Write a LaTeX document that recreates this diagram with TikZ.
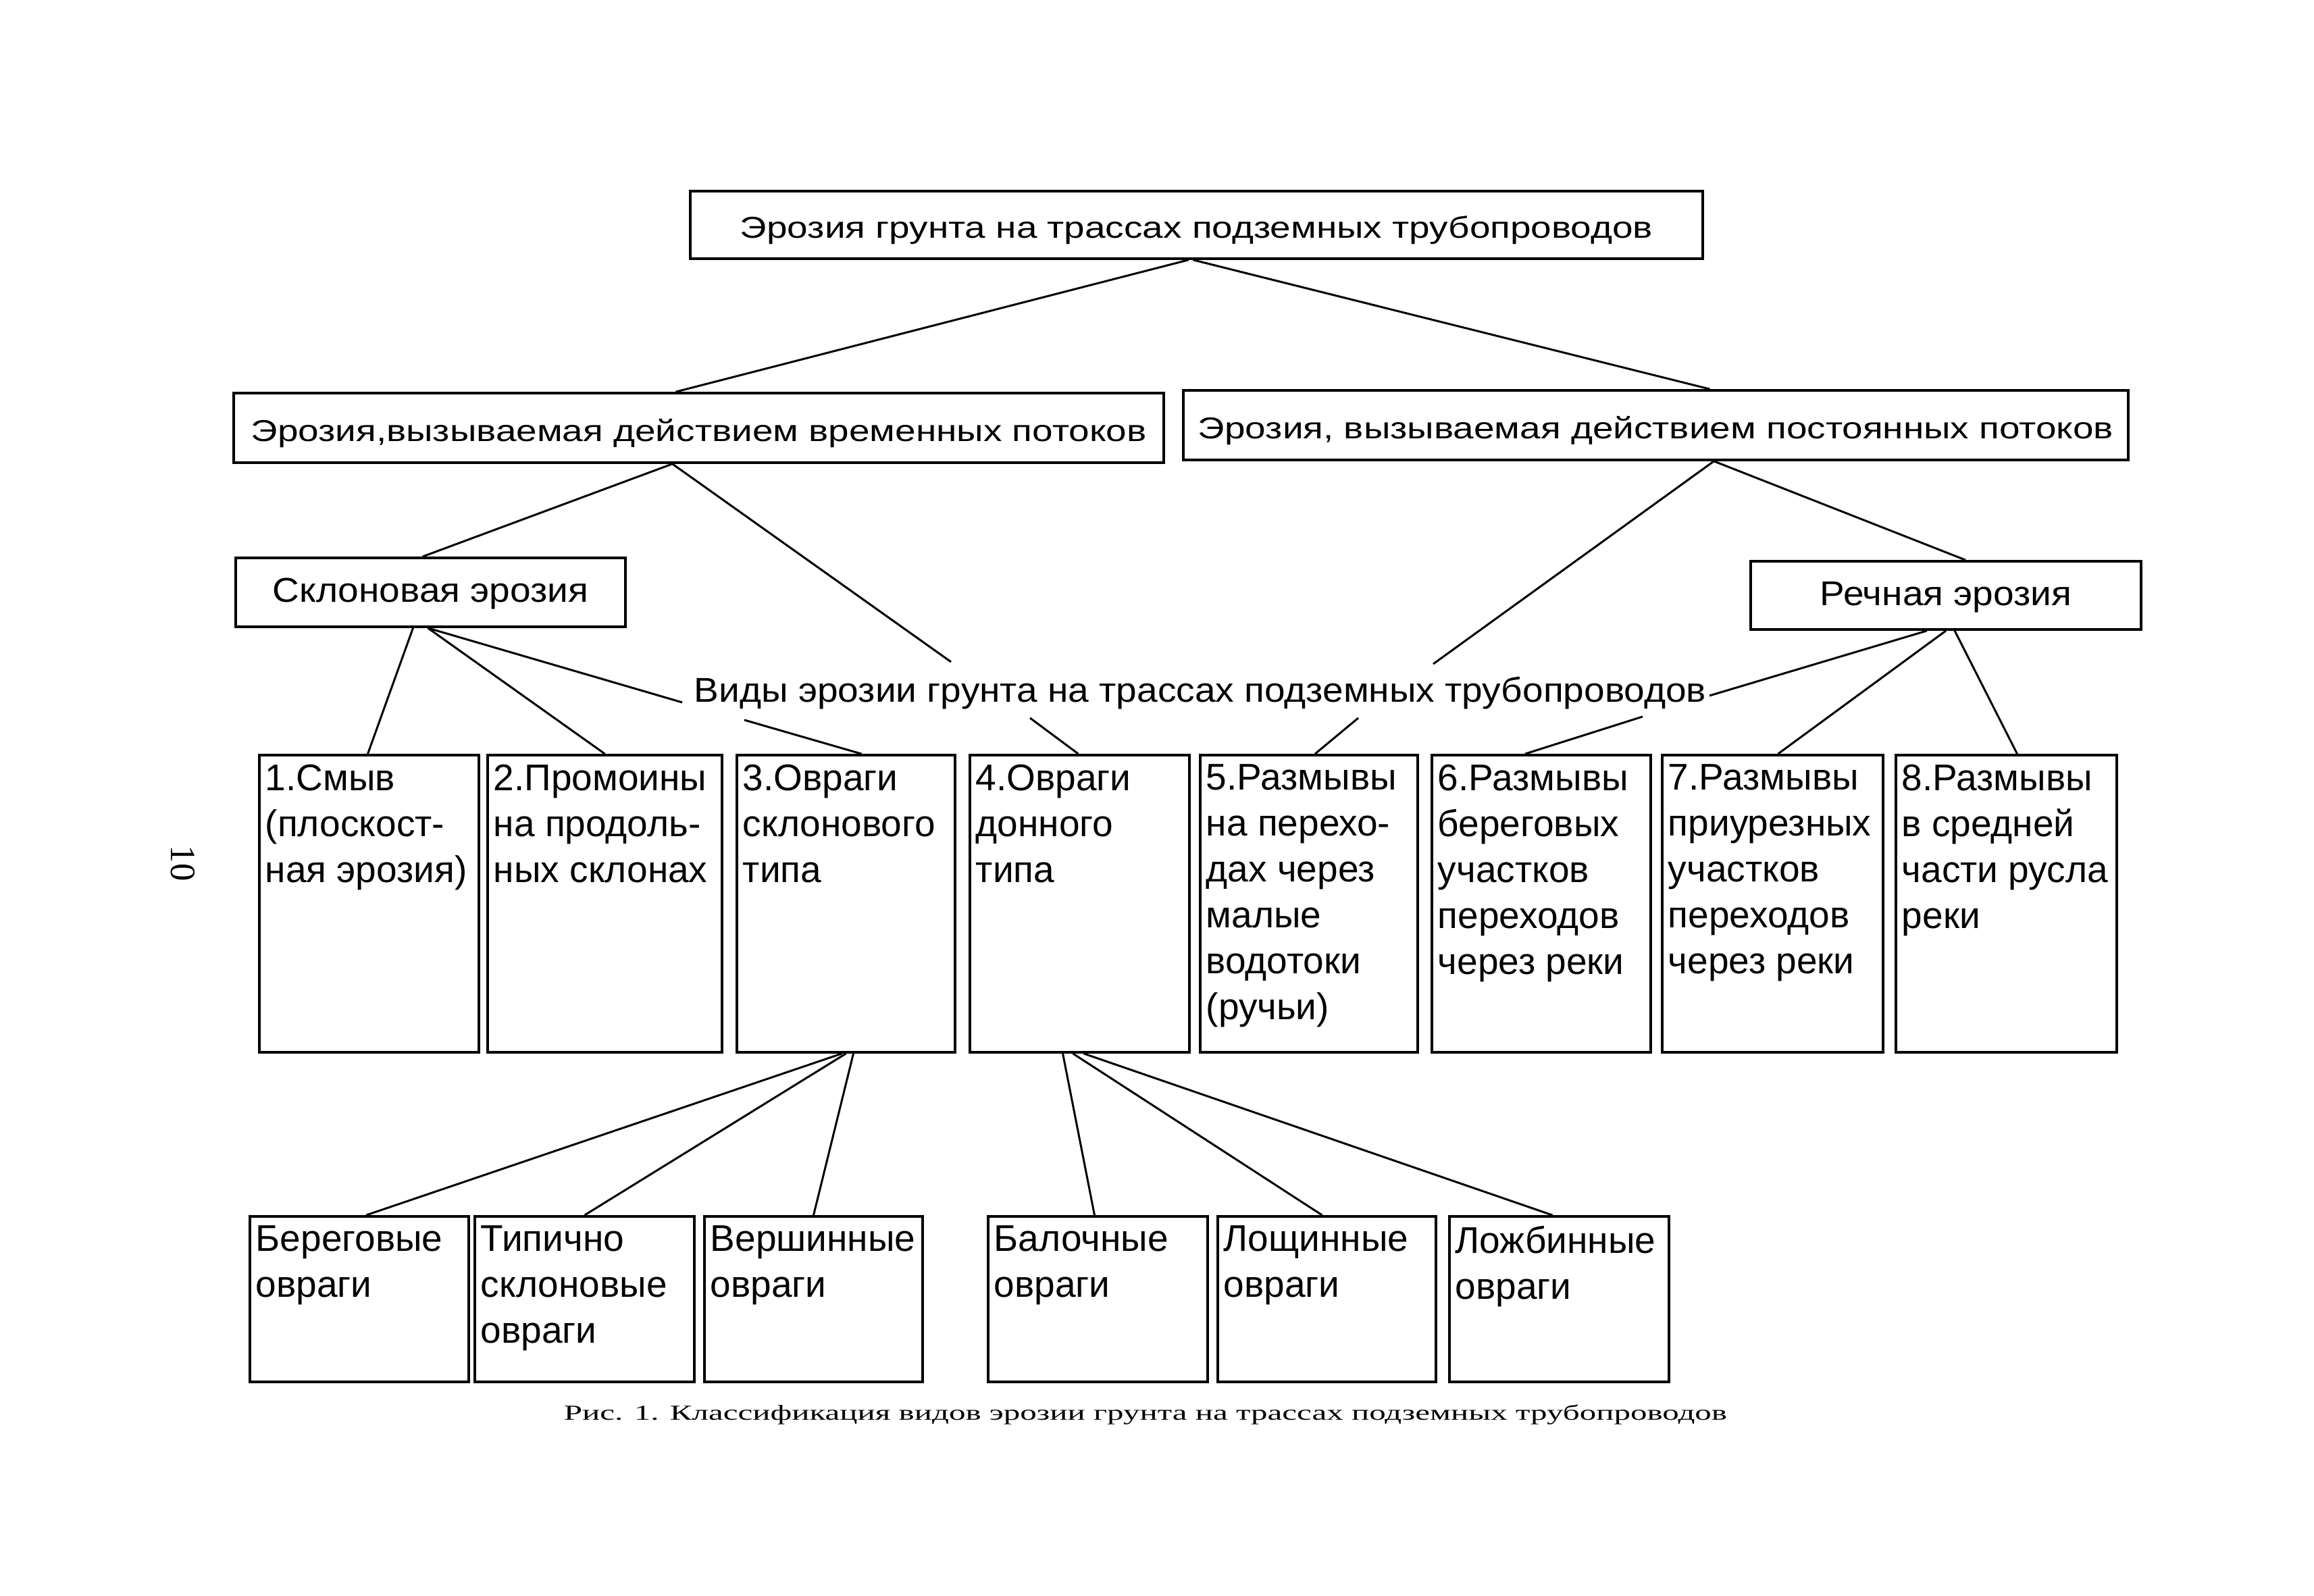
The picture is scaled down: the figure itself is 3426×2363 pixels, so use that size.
\documentclass[tikz,border=0pt]{standalone}
\usepackage{fontspec}
\setmainfont{Liberation Sans}
\newfontfamily\wideA[FakeStretch=1.23]{Liberation Sans}
\newfontfamily\wideB[FakeStretch=1.08]{Liberation Sans}
\newfontfamily\capfont[FakeStretch=1.55]{Liberation Serif}
\newfontfamily\pgnfont{Liberation Serif}
\usetikzlibrary{fit,calc}
\tikzset{
  frame/.style={draw, line width=1.05pt, inner sep=0pt},
  lnk/.style={line width=0.85pt},
  hdA/.style={font=\wideA\fontsize{12.7}{15}\selectfont, inner sep=0pt, anchor=base},
  hdB/.style={font=\wideB\fontsize{14.5}{17}\selectfont, inner sep=0pt, anchor=base},
  boxtxt/.style={anchor=north west, inner sep=0pt, align=left,
    font=\fontsize{15.65}{19.35}\selectfont},
  captxt/.style={font=\capfont\fontsize{9}{11}\selectfont, inner sep=0pt},
  pgtxt/.style={font=\pgnfont\fontsize{15}{17}\selectfont, inner sep=0pt}
}
\begin{document}
\begin{tikzpicture}[x=0.1mm, y=-0.1mm]
\fill[white] (0,0) rectangle (3426,2363);
\useasboundingbox (0,0) rectangle (3426,2363);

% level 1 and 2 frames
\node[frame, fit={(1022,283) (2521,383)}] (top) {};
\node[frame, fit={(346,582) (1723,685)}] (l2a) {};
\node[frame, fit={(1752,578) (3151,681)}] (l2b) {};
\node[frame, fit={(349,826) (926,928)}] (slope) {};
\node[frame, fit={(2592,831) (3170,932)}] (river) {};
% their texts
\node[hdA] (toptxt) at ($(top.center)+(0,20)$) {Эрозия грунта на трассах подземных трубопроводов};
\node[hdA] (l2atxt) at ($(l2a.center)+(0,20)$) {Эрозия,вызываемая действием временных потоков};
\node[hdA] (l2btxt) at ($(l2b.center)+(0,20)$) {Эрозия, вызываемая действием постоянных потоков};
\node[hdB] (slopetxt) at ($(slope.center)+(0,15)$) {Склоновая эрозия};
\node[hdB] (rivertxt) at ($(river.center)+(0,15)$) {Речная эрозия};
\node[hdB] (vidy) at (1777,1040) {Виды эрозии грунта на трассах подземных трубопроводов};

% row of eight boxes
\node[frame, fit={(384,1118) (709,1558)}] (b1) {};
\node[frame, fit={(722,1118) (1069,1558)}] (b2) {};
\node[frame, fit={(1091,1118) (1414,1558)}] (b3) {};
\node[frame, fit={(1436,1118) (1761,1558)}] (b4) {};
\node[frame, fit={(1777,1118) (2099,1558)}] (b5) {};
\node[frame, fit={(2120,1118) (2444,1558)}] (b6) {};
\node[frame, fit={(2461,1118) (2788,1558)}] (b7) {};
\node[frame, fit={(2807,1118) (3134,1558)}] (b8) {};
\node[boxtxt] (t1) at ($(b1.north west)+(10,15)$) {1.Смыв\\(плоскост-\\ная эрозия)};
\node[boxtxt] (t2) at ($(b2.north west)+(10,15)$) {2.Промоины\\на продоль-\\ных склонах};
\node[boxtxt] (t3) at ($(b3.north west)+(10,15)$) {3.Овраги\\склонового\\типа};
\node[boxtxt] (t4) at ($(b4.north west)+(10,15)$) {4.Овраги\\донного\\типа};
\node[boxtxt] (t5) at ($(b5.north west)+(10,15)$) {5.Размывы\\на перехо-\\дах через\\малые\\водотоки\\(ручьи)};
\node[boxtxt] (t6) at ($(b6.north west)+(10,15)$) {6.Размывы\\береговых\\участков\\переходов\\через реки};
\node[boxtxt] (t7) at ($(b7.north west)+(10,15)$) {7.Размывы\\приурезных\\участков\\переходов\\через реки};
\node[boxtxt] (t8) at ($(b8.north west)+(10,15)$) {8.Размывы\\в средней\\части русла\\реки};

% bottom boxes
\node[frame, fit={(370,1801) (694,2046)}] (s1) {};
\node[frame, fit={(703,1801) (1028,2046)}] (s2) {};
\node[frame, fit={(1043,1801) (1366,2046)}] (s3) {};
\node[frame, fit={(1463,1801) (1788,2046)}] (s4) {};
\node[frame, fit={(1803,1801) (2126,2046)}] (s5) {};
\node[frame, fit={(2146,1801) (2471,2046)}] (s6) {};
\node[boxtxt] (u1) at ($(s1.north west)+(10,15)$) {Береговые\\овраги};
\node[boxtxt] (u2) at ($(s2.north west)+(10,15)$) {Типично\\склоновые\\овраги};
\node[boxtxt] (u3) at ($(s3.north west)+(10,15)$) {Вершинные\\овраги};
\node[boxtxt] (u4) at ($(s4.north west)+(10,15)$) {Балочные\\овраги};
\node[boxtxt] (u5) at ($(s5.north west)+(10,15)$) {Лощинные\\овраги};
\node[boxtxt] (u6) at ($(s6.north west)+(10,15)$) {Ложбинные\\овраги};

% caption and page number
\node[captxt, anchor=base] (cap) at (1696,2102) {Рис. 1. Классификация видов эрозии грунта на трассах подземных трубопроводов};
\node[pgtxt, rotate=-90] (pg) at (271,1278) {10};

% free ends near the label
\coordinate (v1) at (1408,980);
\coordinate (v2) at (2122,983);
\coordinate (v3) at (1102,1066);
\coordinate (v4) at (1525,1063);
\coordinate (v5) at (2011,1063);
\coordinate (v6) at (2432,1061);

% connectors
\draw[lnk] ($(top.south)+(-12,0)$) -- ($(l2a.north)+(-34,0)$);
\draw[lnk] ($(top.south)+(-5,0)$) -- ($(l2b.north)+(80,0)$);
\draw[lnk] ($(l2a.south)+(-39,0)$) -- ($(slope.north)+(-12,0)$);
\draw[lnk] ($(l2a.south)+(-39,0)$) -- (v1);
\draw[lnk] ($(l2b.south)+(86,0)$) -- (v2);
\draw[lnk] ($(l2b.south)+(86,0)$) -- ($(river.north)+(29,0)$);
\draw[lnk] ($(slope.south)+(-26,0)$) -- ($(b1.north)+(-2,0)$);
\draw[lnk] ($(slope.south)+(-4,0)$) -- (b2.north);
\draw[lnk] ($(slope.south)+(-4,0)$) -- ($(vidy.base west)+(-17,0)$);
\draw[lnk] (v3) -- ($(b3.north)+(23,0)$);
\draw[lnk] (v4) -- ($(b4.north)+(-2,0)$);
\draw[lnk] (v5) -- ($(b5.north)+(9,0)$);
\draw[lnk] (v6) -- ($(b6.north)+(-24,0)$);
\draw[lnk] ($(vidy.base east)+(4,-10)$) -- ($(river.south)+(-28,0)$);
\draw[lnk] (river.south) -- ($(b7.north)+(8,0)$);
\draw[lnk] ($(river.south)+(13,0)$) -- ($(b8.north)+(16,0)$);
\draw[lnk] ($(b3.south)+(-6,0)$) -- ($(s1.north)+(10,0)$);
\draw[lnk] (b3.south) -- (s2.north);
\draw[lnk] ($(b3.south)+(11,0)$) -- (s3.north);
\draw[lnk] ($(b4.south)+(-25,0)$) -- ($(s4.north)+(-5,0)$);
\draw[lnk] ($(b4.south)+(-10,0)$) -- ($(s5.north)+(-7,0)$);
\draw[lnk] ($(b4.south)+(6,0)$) -- ($(s6.north)+(-10,0)$);
\end{tikzpicture}
\end{document}
